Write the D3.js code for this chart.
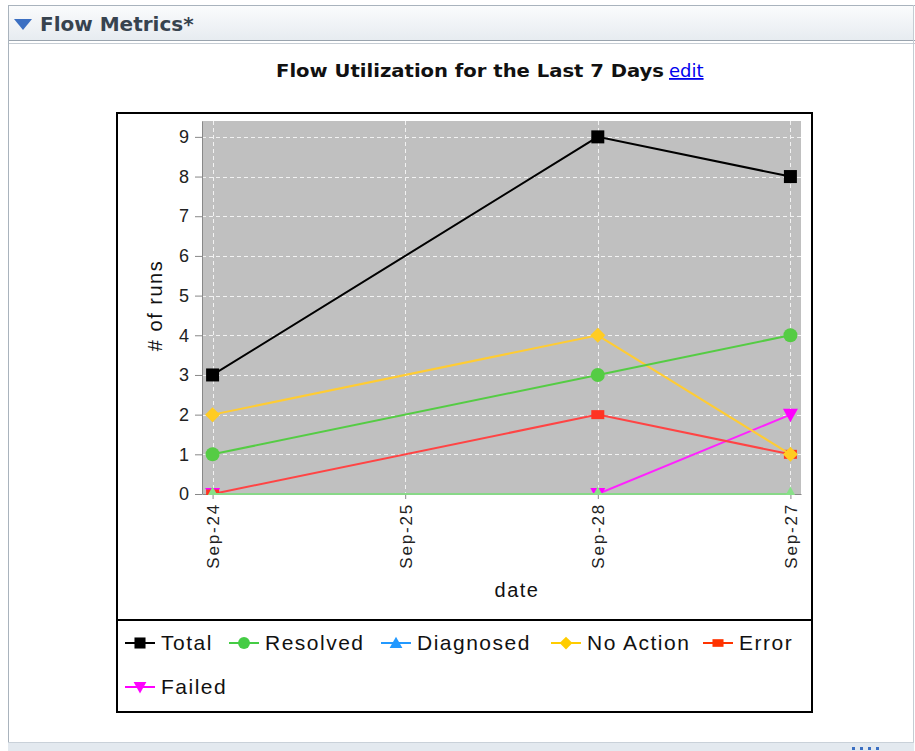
<!DOCTYPE html>
<html>
<head>
<meta charset="utf-8">
<script src="https://cdn.jsdelivr.net/npm/d3@7/dist/d3.min.js"></script>
<style>
  html, body { margin: 0; padding: 0; background: #fff; }
  svg { display: block; }
</style>
</head>
<body>
<div id="chart"></div>
<script>
// -------- Data --------
const dates = ['Sep-24', 'Sep-25', 'Sep-28', 'Sep-27'];
const seriesNames = ['Total', 'Resolved', 'Diagnosed', 'No Action', 'Error', 'Failed'];
const total     = [3, null, 9, 8];
const resolved  = [1, null, 3, 4];
const diagnosed = [0, null, 0, 0];
const noAction  = [2, null, 4, 1];
const error     = [0, null, 2, 1];
const failed    = [0, null, 0, 2];
const yTicks = [0, 1, 2, 3, 4, 5, 6, 7, 8, 9];

const values = [total, resolved, diagnosed, noAction, error, failed];
const lineColors   = ['#000000', '#55cc44', '#88d888', '#ffcc33', '#ff4444', '#ff22ff'];
const markColors   = ['#000000', '#55cc44', '#88e088', '#ffcc22', '#ff3322', '#ff00ff'];
const legendColors = ['#000000', '#44cc44', '#2299ff', '#ffcc00', '#ff3300', '#ff00ff'];
const shapes = ['square', 'circle', 'triangle', 'diamond', 'rect', 'down'];

// -------- Layout --------
const W = 915, H = 751;
const plot = { left: 202, right: 801, top: 121, bottom: 494 };
const chartFont = '"Liberation Sans", Arial, sans-serif';

const svg = d3.select('#chart').append('svg')
  .attr('width', W).attr('height', H);

// -------- Panel chrome --------
const grad = svg.append('defs').append('linearGradient')
  .attr('id', 'hdr').attr('x1', 0).attr('y1', 0).attr('x2', 0).attr('y2', 1);
grad.append('stop').attr('offset', '0%').attr('stop-color', '#fbfcfd');
grad.append('stop').attr('offset', '100%').attr('stop-color', '#e6ebf0');

svg.append('rect').attr('x', 8).attr('y', 5).attr('width', 905).attr('height', 36)
  .attr('fill', 'url(#hdr)');
svg.append('line').attr('x1', 8).attr('x2', 915).attr('y1', 5.5).attr('y2', 5.5)
  .attr('stroke', '#a9b3bd');
svg.append('line').attr('x1', 8).attr('x2', 915).attr('y1', 40.5).attr('y2', 40.5)
  .attr('stroke', '#9aa4ae');
svg.append('line').attr('x1', 8).attr('x2', 915).attr('y1', 43.5).attr('y2', 43.5)
  .attr('stroke', '#c5ccd3');
svg.append('line').attr('x1', 8.5).attr('x2', 8.5).attr('y1', 5).attr('y2', 751)
  .attr('stroke', '#a9b3bd');
svg.append('line').attr('x1', 913.5).attr('x2', 913.5).attr('y1', 5).attr('y2', 751)
  .attr('stroke', '#c5ccd3');
svg.append('path').attr('d', 'M14,19 L32,19 L23,30 Z').attr('fill', '#3b6fc2');
svg.append('text').attr('x', 40).attr('y', 31)
  .attr('fill', '#37434f')
  .style('font', 'bold 20px "DejaVu Sans", sans-serif')
  .text('Flow Metrics*');

// bottom strip
svg.append('rect').attr('x', 8).attr('y', 743).attr('width', 906).attr('height', 8)
  .attr('fill', '#e3e9ef');
svg.append('line').attr('x1', 8).attr('x2', 914).attr('y1', 742.5).attr('y2', 742.5)
  .attr('stroke', '#c9d1d9');
[852, 860, 868, 876].forEach(x => {
  svg.append('rect').attr('x', x).attr('y', 747).attr('width', 3).attr('height', 3)
    .attr('fill', '#3b6fc2');
});

// -------- Title --------
const title = svg.append('text').attr('x', 276).attr('y', 77)
  .style('font', 'bold 18px "DejaVu Sans Condensed", "DejaVu Sans", sans-serif')
  .attr('fill', '#111');
title.append('tspan').text('Flow Utilization for the Last 7 Days')
  .attr('textLength', 388).attr('lengthAdjust', 'spacingAndGlyphs');
title.append('tspan').attr('x', 669).text('edit')
  .attr('fill', '#0000ee')
  .style('font', '18px "DejaVu Sans", sans-serif')
  .style('text-decoration', 'underline');

// -------- Chart frame --------
svg.append('rect').attr('x', 117).attr('y', 113).attr('width', 695).attr('height', 599)
  .attr('fill', '#fff').attr('stroke', '#000').attr('stroke-width', 2);
svg.append('line').attr('x1', 117).attr('x2', 812).attr('y1', 620).attr('y2', 620)
  .attr('stroke', '#000').attr('stroke-width', 2);

// -------- Scales --------
const x = d3.scalePoint().domain(dates)
  .range([plot.left, plot.right]).padding(0.055);
const y = d3.scaleLinear().domain([0, 9.4])
  .range([plot.bottom, plot.top]);

svg.append('rect')
  .attr('x', plot.left).attr('y', plot.top)
  .attr('width', plot.right - plot.left).attr('height', plot.bottom - plot.top)
  .attr('fill', '#c0c0c0');

svg.append('clipPath').attr('id', 'clip').append('rect')
  .attr('x', plot.left).attr('y', plot.top)
  .attr('width', plot.right - plot.left).attr('height', plot.bottom - plot.top + 1);

// grid
const grid = svg.append('g').attr('stroke', '#f2f2f2').attr('stroke-dasharray', '4,3')
  .attr('stroke-width', 1);
grid.selectAll('line.h').data(yTicks.slice(1)).join('line')
  .attr('x1', plot.left).attr('x2', plot.right)
  .attr('y1', d => Math.round(y(d)) + 0.5).attr('y2', d => Math.round(y(d)) + 0.5);
grid.selectAll('line.v').data(dates).join('line')
  .attr('y1', plot.top).attr('y2', plot.bottom)
  .attr('x1', d => Math.round(x(d)) + 0.5).attr('x2', d => Math.round(x(d)) + 0.5);

// axes
const yAxis = svg.append('g').attr('transform', `translate(${plot.left},0)`)
  .call(d3.axisLeft(y).tickValues(yTicks).tickSize(7).tickPadding(6).tickSizeOuter(0));
yAxis.select('.domain').attr('stroke', '#888');
yAxis.selectAll('.tick line').attr('stroke', '#888');
yAxis.selectAll('text').attr('fill', '#222')
  .style('font', `18px ${chartFont}`);

const xAxis = svg.append('g').attr('transform', `translate(0,${plot.bottom})`)
  .call(d3.axisBottom(x).tickSize(5).tickSizeOuter(0));
xAxis.select('.domain').attr('stroke', '#888');
xAxis.selectAll('.tick line').attr('stroke', '#888');
xAxis.selectAll('text').attr('fill', '#222')
  .style('font', `17px ${chartFont}`)
  .style('letter-spacing', '1.8px')
  .attr('transform', 'rotate(-90)')
  .attr('text-anchor', 'end')
  .attr('x', -9).attr('y', 0).attr('dy', '0.35em');

svg.append('text')
  .attr('transform', `translate(162,${(plot.top + plot.bottom) / 2 - 2}) rotate(-90)`)
  .attr('text-anchor', 'middle')
  .style('font', `20px ${chartFont}`)
  .style('letter-spacing', '1.5px')
  .attr('fill', '#111').text('# of runs');
svg.append('text').attr('x', 517).attr('y', 597)
  .attr('text-anchor', 'middle')
  .style('font', `20px ${chartFont}`)
  .style('letter-spacing', '1.5px')
  .attr('fill', '#111').text('date');

// -------- Markers --------
function marker(sel, shape, color) {
  if (shape === 'square') {
    sel.append('rect').attr('x', -6.5).attr('y', -6.5).attr('width', 13).attr('height', 13).attr('fill', color);
  } else if (shape === 'rect') {
    sel.append('rect').attr('x', -6.5).attr('y', -4.5).attr('width', 13).attr('height', 9).attr('fill', color);
  } else if (shape === 'circle') {
    sel.append('circle').attr('r', 7).attr('fill', color);
  } else if (shape === 'diamond') {
    sel.append('path').attr('d', 'M0,-7.5L7.5,0L0,7.5L-7.5,0Z').attr('fill', color);
  } else if (shape === 'triangle') {
    sel.append('path').attr('d', 'M0,-7.5L7.5,6L-7.5,6Z').attr('fill', color);
  } else if (shape === 'down') {
    sel.append('path').attr('d', 'M-7.5,-6L7.5,-6L0,7.5Z').attr('fill', color);
  }
}

// -------- Series --------
const line = d3.line().x(d => x(d.date)).y(d => y(d.v));
const plotG = svg.append('g').attr('clip-path', 'url(#clip)');
// draw order: later series on top
const order = [5, 4, 2, 3, 1, 0];
order.forEach(i => {
  const pts = dates.map((d, j) => ({ date: d, v: values[i][j] })).filter(p => p.v !== null);
  plotG.append('path').datum(pts)
    .attr('d', line).attr('fill', 'none')
    .attr('stroke', lineColors[i]).attr('stroke-width', 2);
  plotG.selectAll(null).data(pts).join('g')
    .attr('transform', p => `translate(${x(p.date)},${y(p.v)})`)
    .each(function () { marker(d3.select(this), shapes[i], markColors[i]); });
});

// -------- Legend --------
const legendPos = [[125, 643], [229, 643], [381, 643], [551, 643], [703, 643], [125, 687]];
const legend = svg.append('g');
seriesNames.forEach((name, i) => {
  const g = legend.append('g').attr('transform', `translate(${legendPos[i][0]},${legendPos[i][1]})`);
  g.append('line').attr('x1', 0).attr('x2', 30).attr('y1', 0).attr('y2', 0)
    .attr('stroke', legendColors[i]).attr('stroke-width', 2);
  const m = g.append('g').attr('transform', 'translate(15,0)');
  marker(m, shapes[i], legendColors[i]);
  m.selectAll('*').attr('transform', 'scale(0.85)');
  g.append('text').attr('x', 36).attr('y', 0).attr('dy', '0.35em')
    .style('font', `21px ${chartFont}`)
    .style('letter-spacing', '1.5px')
    .attr('fill', '#111').text(name);
});
</script>
</body>
</html>
